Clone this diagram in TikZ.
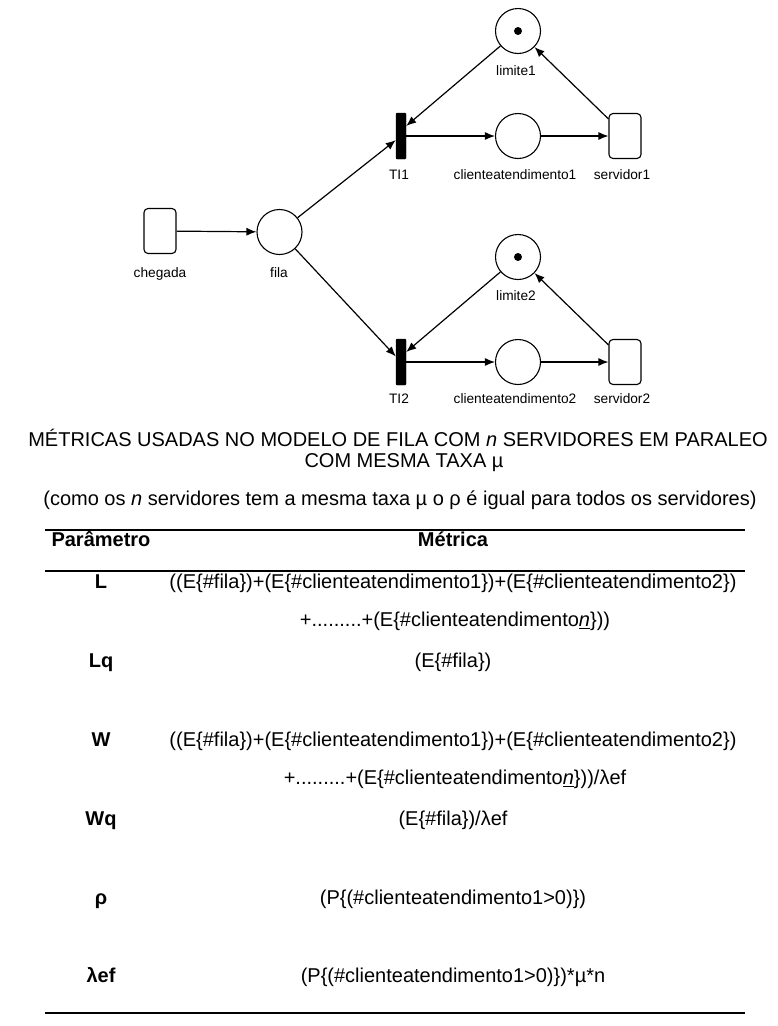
\documentclass[tikz,border=0pt]{standalone}
\usepackage{fontspec}
\setmainfont{Liberation Sans}
\usetikzlibrary{arrows.meta}
\definecolor{netInk}{HTML}{000000}
\tikzset{
  >={Latex[length=10pt,width=8pt]},
  place/.style={draw=netInk,circle,line width=1.1pt,minimum size=45pt,inner sep=0pt},
  tokenDot/.style={fill=netInk,circle,minimum size=8pt,inner sep=0pt},
  transBar/.style={fill=netInk,draw=netInk,rounded corners=1pt,
                   minimum width=10pt,minimum height=46pt,inner sep=0pt},
  boxPlace/.style={draw=netInk,line width=1.1pt,rounded corners=4pt,
                   minimum width=32pt,minimum height=45pt,inner sep=0pt},
  netLabel/.style={font=\fontsize{13.7}{16}\selectfont,inner sep=0pt,
                   text height=10pt,text depth=3pt},
  arc/.style={->,line width=1.2pt,netInk},
  titleText/.style={font=\fontsize{20}{24}\selectfont,inner sep=0pt},
  paramText/.style={font=\fontsize{20}{24}\selectfont\bfseries,inner sep=0pt,
                    text height=15pt,text depth=4pt},
  metricText/.style={font=\fontsize{20}{24}\selectfont,inner sep=0pt,
                     text height=15pt,text depth=4pt},
  tableRule/.style={line width=1.2pt,netInk},
}

\begin{document}
\begin{tikzpicture}[x=1pt,y=-1pt]
\useasboundingbox (0,0) rectangle (778,1026);

% Petri net: arrival, queue and two servers.
\node[boxPlace] (chegada) at (160,231) {};
\node[place]    (fila)    at (279.5,232) {};
\node[transBar] (ti1)     at (401,136) {};
\node[place]    (lim1)    at (518,31)  {};
\node[tokenDot]           at (lim1.center) {};
\node[place]    (cli1)    at (518,136) {};
\node[boxPlace] (serv1)   at (625,136) {};
\node[transBar] (ti2)     at (401,362) {};
\node[place]    (lim2)    at (518,257) {};
\node[tokenDot]           at (lim2.center) {};
\node[place]    (cli2)    at (518,362) {};
\node[boxPlace] (serv2)   at (625,362) {};

\node[netLabel] (chegadaLbl) at (160,274) {chegada};
\node[netLabel] (filaLbl)    at (279,274) {fila};
\node[netLabel] (lim1Lbl)    at (516,72)  {limite1};
\node[netLabel] (ti1Lbl)     at (399,176) {TI1};
\node[netLabel] (cli1Lbl)    at (515,176) {clienteatendimento1};
\node[netLabel] (serv1Lbl)   at (622,176) {servidor1};
\node[netLabel] (lim2Lbl)    at (516,297) {limite2};
\node[netLabel] (ti2Lbl)     at (399,400) {TI2};
\node[netLabel] (cli2Lbl)    at (515,400) {clienteatendimento2};
\node[netLabel] (serv2Lbl)   at (622,400) {servidor2};

\draw[arc] (chegada) -- (fila);
\draw[arc] (fila) -- (ti1);
\draw[arc] (fila) -- (ti2);
\draw[arc] (ti1) -- (cli1);
\draw[arc] (cli1) -- (serv1);
\draw[arc] (ti2) -- (cli2);
\draw[arc] (cli2) -- (serv2);
\draw[arc] (lim1) -- ([yshift=10pt]ti1.east);
\draw[arc] (lim2) -- ([yshift=10pt]ti2.east);
\draw[arc] ([yshift=-6pt]serv1.north west) -- (lim1);
\draw[arc] ([yshift=-6pt]serv2.north west) -- (lim2);

% Title and table of metrics.
\node[titleText] (title1) at (398,438)
  {MÉTRICAS USADAS NO MODELO DE FILA COM \textit{n} SERVIDORES EM PARALEO};
\node[titleText] (title2) at (404,463) {COM MESMA TAXA µ};
\node[titleText] (subtitle) at (400,500)
  {(como os \textit{n} servidores tem a mesma taxa µ o ρ é igual para todos os servidores)};

\coordinate (ruleTopL) at (45,530);
\coordinate (ruleTopR) at (745,530);
\coordinate (ruleMidL) at (45,571);
\coordinate (ruleMidR) at (745,571);
\coordinate (ruleBotL) at (45,1013);
\coordinate (ruleBotR) at (745,1013);
\draw[tableRule] (ruleTopL) -- (ruleTopR);
\draw[tableRule] (ruleMidL) -- (ruleMidR);
\draw[tableRule] (ruleBotL) -- (ruleBotR);

\node[paramText] (hdParam)  at (101,541) {Parâmetro};
\node[paramText] (hdMetric) at (453,541) {Métrica};

\node[paramText] (pL)   at (101,583) {L};
\node[paramText] (pLq)  at (101,662) {Lq};
\node[paramText] (pW)   at (101,741) {W};
\node[paramText] (pWq)  at (101,820) {Wq};
\node[paramText] (pRho) at (101,899) {ρ};
\node[paramText] (pLam) at (101,977) {λef};

\node[metricText] (mL1) at (453,583)
  {((E\{\#fila\})+(E\{\#clienteatendimento1\})+(E\{\#clienteatendimento2\})};
\node[metricText] (mL2) at (455,621)
  {+.........+(E\{\#clienteatendimento\underline{\textit{n}}\}))};
\node[metricText] (mLq) at (453,662) {(E\{\#fila\})};
\node[metricText] (mW1) at (453,741)
  {((E\{\#fila\})+(E\{\#clienteatendimento1\})+(E\{\#clienteatendimento2\})};
\node[metricText] (mW2) at (455,779)
  {+.........+(E\{\#clienteatendimento\underline{\textit{n}}\}))/λef};
\node[metricText] (mWq)  at (453,820) {(E\{\#fila\})/λef};
\node[metricText] (mRho) at (453,899) {(P\{(\#clienteatendimento1>0)\})};
\node[metricText] (mLam) at (453,977) {(P\{(\#clienteatendimento1>0)\})*µ*n};

\end{tikzpicture}
\end{document}
